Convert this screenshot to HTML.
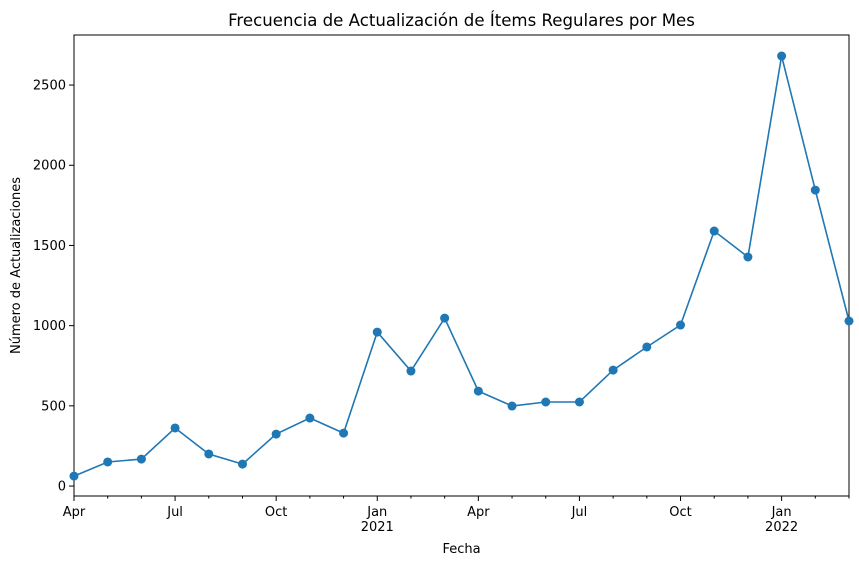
<!DOCTYPE html>
<html><head><meta charset="utf-8"><style>
body{margin:0;background:#fff}
svg{font-family:"DejaVu Sans","Liberation Sans",sans-serif}
</style></head><body>
<svg id="c" width="859" height="566"></svg>
<script>
const months=["Apr","May","Jun","Jul","Aug","Sep","Oct","Nov","Dec","Jan","Feb","Mar","Apr","May","Jun","Jul","Aug","Sep","Oct","Nov","Dec","Jan","Feb","Mar"];
const years=["","","","","","","","","","2021","","","","","","","","","","","","2022","",""];
const values=[62,150,168,362,200,137,324,424,330,960,717,1047,592,499,524,524,723,867,1004,1590,1428,2681,1845,1029];
const yTicks=[0,500,1000,1500,2000,2500];
const majorMonths=["Apr","Jul","Oct","Jan"];
const NS="http://www.w3.org/2000/svg";
const svg=document.getElementById('c');
const L=74,R=849,T=35,B=496,yMin=-62,yMax=2812;
const x=i=>L+(R-L)*i/(values.length-1);
const y=v=>B-(v-yMin)/(yMax-yMin)*(B-T);
function el(t,a,txt){const e=document.createElementNS(NS,t);for(const k in a)e.setAttribute(k,a[k]);if(txt!=null)e.textContent=txt;svg.appendChild(e);return e;}
let e=el('rect',{x:L,y:T,width:R-L,height:B-T,fill:'none',stroke:'#000','stroke-width':1});


yTicks.forEach(v=>{
 const t=el('line',{x1:L-5,x2:L,y1:y(v),y2:y(v),stroke:'#000'});
 
 
 const l=el('text',{x:L-8,y:y(v)+4.5,'text-anchor':'end','font-size':13},String(v));
 
 
});
months.forEach((m,i)=>{
 const major=majorMonths.includes(m);
 const t=el('line',{x1:x(i),x2:x(i),y1:B,y2:B+(major?5:2.5),stroke:'#000'});
 
 
 if(major){
  const l=el('text',{x:x(i),y:B+20,'text-anchor':'middle','font-size':13},m);
  
  
 }
 if(years[i]){
  const yl=el('text',{x:x(i),y:B+35,'text-anchor':'middle','font-size':13},years[i]);
  
  
 }
});
const pts=values.map((v,i)=>x(i)+','+y(v)).join(' ');
const pl=el('polyline',{points:pts,fill:'none',stroke:'#1f77b4','stroke-width':1.6});


values.forEach((v,i)=>{
 const c=el('circle',{cx:x(i),cy:y(v),r:4.5,fill:'#1f77b4'});
 
 
});
let tt=el('text',{x:(L+R)/2,y:26,'text-anchor':'middle','font-size':16.6},'Frecuencia de Actualización de Ítems Regulares por Mes');


let xt=el('text',{x:(L+R)/2,y:553,'text-anchor':'middle','font-size':13},'Fecha');


let yt=el('text',{x:0,y:0,'text-anchor':'middle','font-size':13,transform:`translate(20,${(T+B)/2}) rotate(-90)`},'Número de Actualizaciones');


</script>
</body></html>
